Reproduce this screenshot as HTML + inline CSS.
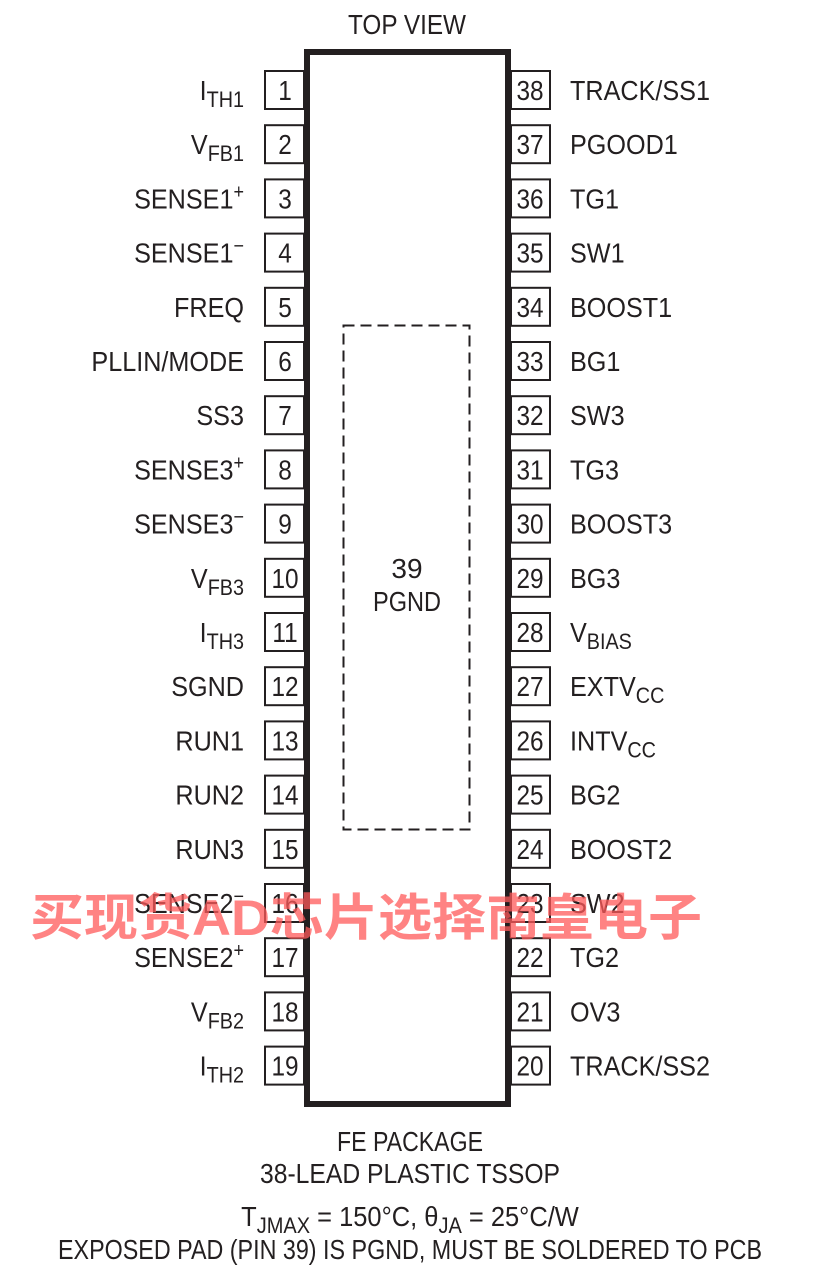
<!DOCTYPE html>
<html><head><meta charset="utf-8"><style>
html,body{margin:0;padding:0;background:#fff}
svg text{font-family:"Liberation Sans",sans-serif;font-size:28px;fill:#231f20}
.wm{font-family:"Liberation Sans","Noto Sans CJK SC",sans-serif;font-weight:bold;font-size:50px;fill:#ff5a5a;fill-opacity:.75}
</style></head><body>
<svg width="820" height="1280" viewBox="0 0 820 1280" xmlns="http://www.w3.org/2000/svg">
<text x="407" y="34" text-anchor="middle" textLength="118" lengthAdjust="spacingAndGlyphs">TOP VIEW</text>
<rect x="307" y="52" width="201" height="1052" fill="none" stroke="#231f20" stroke-width="6"/>
<rect x="343.5" y="325.5" width="126" height="504" fill="none" stroke="#231f20" stroke-width="2" stroke-dasharray="11,6"/>
<text x="407" y="578" text-anchor="middle">39</text>
<text x="407" y="611" text-anchor="middle" textLength="68" lengthAdjust="spacingAndGlyphs">PGND</text>
<g fill="#fff" stroke="#231f20" stroke-width="2">
<rect x="265" y="71" width="39" height="38"/><rect x="265" y="125.2" width="39" height="38"/><rect x="265" y="179.4" width="39" height="38"/><rect x="265" y="233.6" width="39" height="38"/><rect x="265" y="287.8" width="39" height="38"/><rect x="265" y="342" width="39" height="38"/><rect x="265" y="396.2" width="39" height="38"/><rect x="265" y="450.4" width="39" height="38"/><rect x="265" y="504.6" width="39" height="38"/><rect x="265" y="558.8" width="39" height="38"/><rect x="265" y="613" width="39" height="38"/><rect x="265" y="667.2" width="39" height="38"/><rect x="265" y="721.4" width="39" height="38"/><rect x="265" y="775.6" width="39" height="38"/><rect x="265" y="829.8" width="39" height="38"/><rect x="265" y="884" width="39" height="38"/><rect x="265" y="938.2" width="39" height="38"/><rect x="265" y="992.4" width="39" height="38"/><rect x="265" y="1046.6" width="39" height="38"/>
<rect x="511" y="71" width="39" height="38"/><rect x="511" y="125.2" width="39" height="38"/><rect x="511" y="179.4" width="39" height="38"/><rect x="511" y="233.6" width="39" height="38"/><rect x="511" y="287.8" width="39" height="38"/><rect x="511" y="342" width="39" height="38"/><rect x="511" y="396.2" width="39" height="38"/><rect x="511" y="450.4" width="39" height="38"/><rect x="511" y="504.6" width="39" height="38"/><rect x="511" y="558.8" width="39" height="38"/><rect x="511" y="613" width="39" height="38"/><rect x="511" y="667.2" width="39" height="38"/><rect x="511" y="721.4" width="39" height="38"/><rect x="511" y="775.6" width="39" height="38"/><rect x="511" y="829.8" width="39" height="38"/><rect x="511" y="884" width="39" height="38"/><rect x="511" y="938.2" width="39" height="38"/><rect x="511" y="992.4" width="39" height="38"/><rect x="511" y="1046.6" width="39" height="38"/>
</g>
<g text-anchor="middle">
<g transform="translate(285,100) scale(.87,1)"><text>1</text></g>
<g transform="translate(285,154.2) scale(.87,1)"><text>2</text></g>
<g transform="translate(285,208.4) scale(.87,1)"><text>3</text></g>
<g transform="translate(285,262.6) scale(.87,1)"><text>4</text></g>
<g transform="translate(285,316.8) scale(.87,1)"><text>5</text></g>
<g transform="translate(285,371) scale(.87,1)"><text>6</text></g>
<g transform="translate(285,425.2) scale(.87,1)"><text>7</text></g>
<g transform="translate(285,479.4) scale(.87,1)"><text>8</text></g>
<g transform="translate(285,533.6) scale(.87,1)"><text>9</text></g>
<g transform="translate(285,587.8) scale(.87,1)"><text>10</text></g>
<g transform="translate(285,642) scale(.87,1)"><text>11</text></g>
<g transform="translate(285,696.2) scale(.87,1)"><text>12</text></g>
<g transform="translate(285,750.4) scale(.87,1)"><text>13</text></g>
<g transform="translate(285,804.6) scale(.87,1)"><text>14</text></g>
<g transform="translate(285,858.8) scale(.87,1)"><text>15</text></g>
<g transform="translate(285,913) scale(.87,1)"><text>16</text></g>
<g transform="translate(285,967.2) scale(.87,1)"><text>17</text></g>
<g transform="translate(285,1021.4) scale(.87,1)"><text>18</text></g>
<g transform="translate(285,1075.6) scale(.87,1)"><text>19</text></g>
<g transform="translate(530,100) scale(.87,1)"><text>38</text></g>
<g transform="translate(530,154.2) scale(.87,1)"><text>37</text></g>
<g transform="translate(530,208.4) scale(.87,1)"><text>36</text></g>
<g transform="translate(530,262.6) scale(.87,1)"><text>35</text></g>
<g transform="translate(530,316.8) scale(.87,1)"><text>34</text></g>
<g transform="translate(530,371) scale(.87,1)"><text>33</text></g>
<g transform="translate(530,425.2) scale(.87,1)"><text>32</text></g>
<g transform="translate(530,479.4) scale(.87,1)"><text>31</text></g>
<g transform="translate(530,533.6) scale(.87,1)"><text>30</text></g>
<g transform="translate(530,587.8) scale(.87,1)"><text>29</text></g>
<g transform="translate(530,642) scale(.87,1)"><text>28</text></g>
<g transform="translate(530,696.2) scale(.87,1)"><text>27</text></g>
<g transform="translate(530,750.4) scale(.87,1)"><text>26</text></g>
<g transform="translate(530,804.6) scale(.87,1)"><text>25</text></g>
<g transform="translate(530,858.8) scale(.87,1)"><text>24</text></g>
<g transform="translate(530,913) scale(.87,1)"><text>23</text></g>
<g transform="translate(530,967.2) scale(.87,1)"><text>22</text></g>
<g transform="translate(530,1021.4) scale(.87,1)"><text>21</text></g>
<g transform="translate(530,1075.6) scale(.87,1)"><text>20</text></g>
</g>
<g text-anchor="end">
<g transform="translate(244,100) scale(.9,1)"><text>I<tspan font-size="22" dy="7">TH1</tspan></text></g>
<g transform="translate(244,154.2) scale(.9,1)"><text>V<tspan font-size="22" dy="7">FB1</tspan></text></g>
<g transform="translate(244,208.4) scale(.9,1)"><text>SENSE1<tspan font-size="20" dy="-10">+</tspan></text></g>
<g transform="translate(244,262.6) scale(.9,1)"><text>SENSE1<tspan font-size="20" dy="-10">−</tspan></text></g>
<g transform="translate(244,316.8) scale(.9,1)"><text>FREQ</text></g>
<g transform="translate(244,371) scale(.9,1)"><text>PLLIN/MODE</text></g>
<g transform="translate(244,425.2) scale(.9,1)"><text>SS3</text></g>
<g transform="translate(244,479.4) scale(.9,1)"><text>SENSE3<tspan font-size="20" dy="-10">+</tspan></text></g>
<g transform="translate(244,533.6) scale(.9,1)"><text>SENSE3<tspan font-size="20" dy="-10">−</tspan></text></g>
<g transform="translate(244,587.8) scale(.9,1)"><text>V<tspan font-size="22" dy="7">FB3</tspan></text></g>
<g transform="translate(244,642) scale(.9,1)"><text>I<tspan font-size="22" dy="7">TH3</tspan></text></g>
<g transform="translate(244,696.2) scale(.9,1)"><text>SGND</text></g>
<g transform="translate(244,750.4) scale(.9,1)"><text>RUN1</text></g>
<g transform="translate(244,804.6) scale(.9,1)"><text>RUN2</text></g>
<g transform="translate(244,858.8) scale(.9,1)"><text>RUN3</text></g>
<g transform="translate(244,913) scale(.9,1)"><text>SENSE2<tspan font-size="20" dy="-10">−</tspan></text></g>
<g transform="translate(244,967.2) scale(.9,1)"><text>SENSE2<tspan font-size="20" dy="-10">+</tspan></text></g>
<g transform="translate(244,1021.4) scale(.9,1)"><text>V<tspan font-size="22" dy="7">FB2</tspan></text></g>
<g transform="translate(244,1075.6) scale(.9,1)"><text>I<tspan font-size="22" dy="7">TH2</tspan></text></g>
</g>
<g>
<g transform="translate(570,100) scale(.9,1)"><text>TRACK/SS1</text></g>
<g transform="translate(570,154.2) scale(.9,1)"><text>PGOOD1</text></g>
<g transform="translate(570,208.4) scale(.9,1)"><text>TG1</text></g>
<g transform="translate(570,262.6) scale(.9,1)"><text>SW1</text></g>
<g transform="translate(570,316.8) scale(.9,1)"><text>BOOST1</text></g>
<g transform="translate(570,371) scale(.9,1)"><text>BG1</text></g>
<g transform="translate(570,425.2) scale(.9,1)"><text>SW3</text></g>
<g transform="translate(570,479.4) scale(.9,1)"><text>TG3</text></g>
<g transform="translate(570,533.6) scale(.9,1)"><text>BOOST3</text></g>
<g transform="translate(570,587.8) scale(.9,1)"><text>BG3</text></g>
<g transform="translate(570,642) scale(.9,1)"><text>V<tspan font-size="22" dy="7">BIAS</tspan></text></g>
<g transform="translate(570,696.2) scale(.9,1)"><text>EXTV<tspan font-size="22" dy="7">CC</tspan></text></g>
<g transform="translate(570,750.4) scale(.9,1)"><text>INTV<tspan font-size="22" dy="7">CC</tspan></text></g>
<g transform="translate(570,804.6) scale(.9,1)"><text>BG2</text></g>
<g transform="translate(570,858.8) scale(.9,1)"><text>BOOST2</text></g>
<g transform="translate(570,913) scale(.9,1)"><text>SW2</text></g>
<g transform="translate(570,967.2) scale(.9,1)"><text>TG2</text></g>
<g transform="translate(570,1021.4) scale(.9,1)"><text>OV3</text></g>
<g transform="translate(570,1075.6) scale(.9,1)"><text>TRACK/SS2</text></g>
</g>
<g text-anchor="middle">
<text x="410" y="1151" textLength="146" lengthAdjust="spacingAndGlyphs">FE PACKAGE</text>
<text x="410" y="1183" textLength="300" lengthAdjust="spacingAndGlyphs">38-LEAD PLASTIC TSSOP</text>
<g transform="translate(410,1226) scale(.91,1)"><text>T<tspan font-size="22" dy="7">JMAX</tspan><tspan dy="-7"> = 150°C, θ</tspan><tspan font-size="22" dy="7">JA</tspan><tspan dy="-7"> = 25°C/W</tspan></text></g>
<text x="410" y="1259" textLength="704" lengthAdjust="spacingAndGlyphs">EXPOSED PAD (PIN 39) IS PGND, MUST BE SOLDERED TO PCB</text>
</g>
<text class="wm" x="30" y="935" textLength="672" lengthAdjust="spacingAndGlyphs">买现货AD芯片选择南皇电子</text>
</svg>
</body></html>
